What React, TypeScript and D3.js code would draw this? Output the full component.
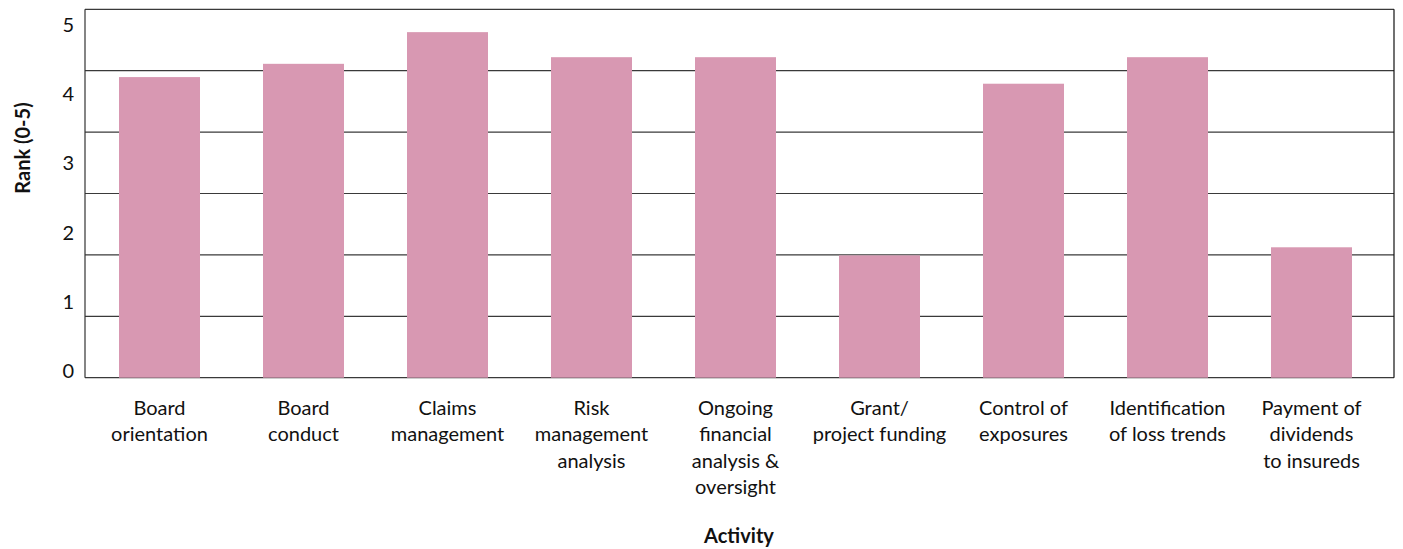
import React from "react";
import * as d3 from "d3";

const categories: string[][] = [
  ["Board", "orientation"],
  ["Board", "conduct"],
  ["Claims", "management"],
  ["Risk", "management", "analysis"],
  ["Ongoing", "financial", "analysis &", "oversight"],
  ["Grant/", "project funding"],
  ["Control of", "exposures"],
  ["Identification", "of loss trends"],
  ["Payment of", "dividends", "to insureds"],
];
const values: number[] = [4.08, 4.26, 4.69, 4.35, 4.35, 1.66, 3.99, 4.35, 1.77];
const tickLabels: number[] = [0, 1, 2, 3, 4, 5];
const gridCount = 6;

const W = 1403;
const H = 549;
const FONT = "Lato, 'Noto Sans', sans-serif";

export default function App() {
  const left = 85;
  const right = 1394;
  const top = 9.3;
  const bottom = 377.7;

  const keys = categories.map((c) => c.join(" "));
  const x = d3
    .scaleBand<string>()
    .domain(keys)
    .range([87.5, 1383.5])
    .paddingInner(0.4375)
    .paddingOuter(0.21875);
  const y = d3.scaleLinear().domain([0, 5]).range([bottom, top]);
  const grid = d3.range(gridCount + 1).map((i) => (i * 5) / gridCount);
  const labelY = d3.scaleLinear().domain([0, 5]).range([370, 24]);

  return (
    <svg width={W} height={H} style={{ position: "absolute", left: 0, top: 0 }}>
      <rect x={0} y={0} width={W} height={H} fill="#fff" />
      {grid.map((g, i) => (
        <line
          key={i}
          x1={left}
          x2={right}
          y1={y(g)}
          y2={y(g)}
          stroke="#3a3a3a"
          strokeWidth={1.2}
        />
      ))}
      <line x1={left} x2={left} y1={top} y2={bottom} stroke="#333" strokeWidth={1.2} />
      <line x1={right} x2={right} y1={top} y2={bottom} stroke="#111" strokeWidth={1.2} />
      {values.map((v, i) => (
        <rect
          key={i}
          x={x(keys[i])}
          width={x.bandwidth()}
          y={y(v)}
          height={y(0) - y(v)}
          fill="#d898b2"
        />
      ))}
      {tickLabels.map((t) => (
        <text
          key={t}
          x={74}
          y={labelY(t)}
          textAnchor="end"
          dominantBaseline="central"
          fontFamily={FONT}
          fontSize={20}
          fill="#111"
        >
          {t}
        </text>
      ))}
      {categories.map((lines, i) =>
        lines.map((ln, j) => (
          <text
            key={i + "-" + j}
            x={(x(keys[i]) as number) + x.bandwidth() / 2}
            y={415 + j * 26.3}
            textAnchor="middle"
            fontFamily={FONT}
            fontSize={20}
            fill="#111"
          >
            {ln}
          </text>
        ))
      )}
      <text
        transform={`translate(22,148) rotate(-90)`}
        textAnchor="middle"
        dominantBaseline="central"
        fontFamily={FONT}
        fontWeight="bold"
        fontSize={20}
        fill="#111"
      >
        Rank (0-5)
      </text>
      <text
        x={739}
        y={543}
        textAnchor="middle"
        fontFamily={FONT}
        fontWeight="bold"
        fontSize={20}
        fill="#111"
      >
        Activity
      </text>
    </svg>
  );
}
